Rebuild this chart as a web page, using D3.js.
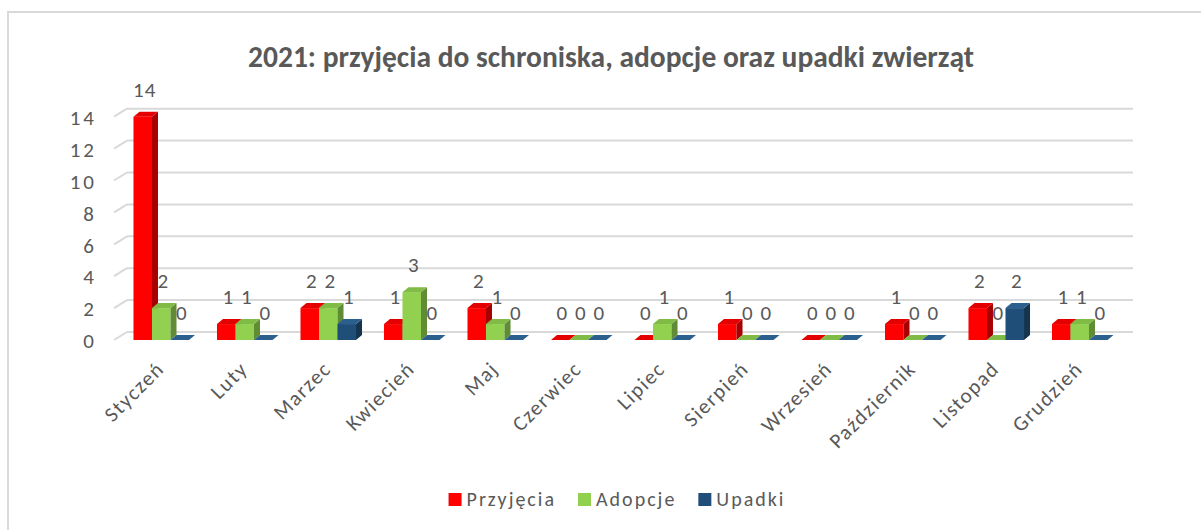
<!DOCTYPE html>
<html lang="pl">
<head>
<meta charset="utf-8">
<title>2021: przyjęcia do schroniska, adopcje oraz upadki zwierząt</title>
<script src="https://cdn.jsdelivr.net/npm/d3@7"></script>
<style>
  body { margin: 0; background: #fff; }
  svg text { font-family: Carlito, Lato, sans-serif; fill: #595959; }
</style>
</head>
<body>
<div id="chart"></div>
<script>
// data
var months = ["Styczeń", "Luty", "Marzec", "Kwiecień", "Maj", "Czerwiec",
              "Lipiec", "Sierpień", "Wrzesień", "Październik", "Listopad", "Grudzień"];
var seriesNames = ["Przyjęcia", "Adopcje", "Upadki"];
var przyjecia = [14, 1, 2, 1, 2, 0, 0, 1, 0, 1, 2, 1];
var adopcje   = [2, 1, 2, 3, 1, 0, 1, 0, 0, 0, 0, 1];
var upadki    = [0, 0, 1, 0, 0, 0, 0, 0, 0, 0, 2, 0];
var yTicks = [0, 2, 4, 6, 8, 10, 12, 14];

var seriesValues = [przyjecia, adopcje, upadki];
// front / side / top shades of each series
var colors = [
  {front: "#ff0000", side: "#a80000", top: "#e40000"},
  {front: "#92d050", side: "#5f8c35", top: "#7fbb45"},
  {front: "#1f4e79", side: "#143450", top: "#2b5f8e"}
];

var W = 1201, H = 530;
var svg = d3.select("#chart").append("svg")
    .attr("width", W).attr("height", H);

// chart area frame (cropped on the right and bottom)
svg.append("rect")
    .attr("x", 8).attr("y", 12)
    .attr("width", 1300).attr("height", 700)
    .attr("fill", "#fff")
    .attr("stroke", "#d9d9d9").attr("stroke-width", 2);

svg.append("text")
    .attr("x", 611).attr("y", 67)
    .attr("text-anchor", "middle")
    .style("font-size", "29.5px").style("font-weight", "bold")
    .text("2021: przyjęcia do schroniska, adopcje oraz upadki zwierząt");

var yScale = d3.scaleLinear().domain([0, 14]).range([340, 116.7]);
var xScale = d3.scaleBand().domain(months)
    .range([119.5, 1121.5])
    .paddingInner(0.335).paddingOuter(0.1675);
var sScale = d3.scaleBand().domain(seriesNames).range([0, xScale.bandwidth()]);

// 3D offsets
var wallDx = 14, wallDy = -8;   // back wall
var dx = 6, dy = -5;            // bar depth

// gridlines on the back wall + short side-wall ticks
var grid = svg.append("g");
yTicks.forEach(function(t) {
  var y = yScale(t);
  grid.append("line")
      .attr("x1", 127).attr("x2", 1133)
      .attr("y1", y + wallDy).attr("y2", y + wallDy)
      .attr("stroke", "#d9d9d9").attr("stroke-width", 2);
  grid.append("line")
      .attr("x1", 114).attr("x2", 114 + wallDx - 1)
      .attr("y1", y).attr("y2", y + wallDy)
      .attr("stroke", "#d9d9d9").attr("stroke-width", 2);
});

// y axis
var yAxis = svg.append("g")
    .attr("transform", "translate(97,1)")
    .call(d3.axisLeft(yScale).tickValues(yTicks).tickSize(0).tickPadding(0));
yAxis.select(".domain").remove();
yAxis.selectAll("text")
    .style("font-size", "21px").style("letter-spacing", "3px");

// x axis, labels rotated
var xAxis = svg.append("g")
    .attr("transform", "translate(-1,365)")
    .call(d3.axisBottom(xScale).tickSize(0).tickPadding(0));
xAxis.select(".domain").remove();
xAxis.selectAll("text")
    .style("font-size", "21px").style("letter-spacing", "1.5px")
    .attr("x", 0).attr("y", 0).attr("dy", "0.35em")
    .attr("text-anchor", "end")
    .attr("transform", "rotate(-45)");

// bars
var groups = svg.append("g").selectAll("g")
    .data(months)
  .enter().append("g")
    .attr("transform", function(d) { return "translate(" + xScale(d) + ",0)"; });

groups.each(function(m, mi) {
  var g = d3.select(this);
  seriesNames.forEach(function(s, si) {
    var v = seriesValues[si][mi];
    var x = sScale(s), w = sScale.bandwidth();
    var y0 = yScale(0), y1 = yScale(v);
    var c = colors[si];
    if (v > 0) {
      g.append("rect")
          .attr("x", x).attr("y", y1)
          .attr("width", w).attr("height", y0 - y1)
          .attr("fill", c.front);
      g.append("polygon")
          .attr("points", [[x + w, y1], [x + w + dx, y1 + dy], [x + w + dx, y0 + dy], [x + w, y0]].join(" "))
          .attr("fill", c.side);
    }
    g.append("polygon")
        .attr("points", [[x, y1], [x + dx, y1 + dy], [x + w + dx, y1 + dy], [x + w, y1]].join(" "))
        .attr("fill", c.top);
    g.append("text")
        .attr("x", x + w / 2 + 2)
        .attr("y", y1 - 20)
        .attr("text-anchor", "middle")
        .style("font-size", "21px").style("letter-spacing", "1px")
        .text(v);
  });
});

// legend
var legend = svg.append("g");
var lx = 0;
seriesNames.forEach(function(s, i) {
  var item = legend.append("g").attr("transform", "translate(" + lx + ",0)");
  item.append("rect")
      .attr("x", 0).attr("y", -13)
      .attr("width", 13).attr("height", 13)
      .attr("fill", colors[i].front);
  var t = item.append("text").attr("x", 18).attr("y", 0)
      .style("font-size", "20px").style("letter-spacing", "2px")
      .text(s);
  lx += 18 + t.node().getComputedTextLength() + 22;
});
legend.attr("transform", "translate(" + (617 - (lx - 22) / 2) + ",506)");
</script>
</body>
</html>
